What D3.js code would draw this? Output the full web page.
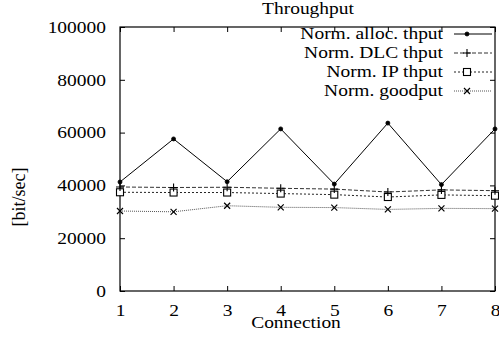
<!DOCTYPE html>
<html>
<head>
<meta charset="utf-8">
<script src="https://cdn.jsdelivr.net/npm/d3@7"></script>
<style>
  body { margin: 0; background: #fff; }
  svg text { font-family: "Liberation Serif", "DejaVu Serif", serif !important; }
</style>
</head>
<body>
<svg id="chart"></svg>
<script>
const connections = [1, 2, 3, 4, 5, 6, 7, 8];
const allocThput = [41300, 57600, 41400, 61400, 40500, 63600, 40300, 61400];
const dlcThput   = [39400, 39200, 39300, 38900, 38600, 37500, 38300, 38000];
const ipThput    = [37400, 37300, 37300, 36900, 36500, 35600, 36400, 36100];
const goodput    = [30300, 30000, 32300, 31700, 31600, 30900, 31300, 31200];
const yTicks = [0, 20000, 40000, 60000, 80000, 100000];

const series = [
  { name: "Norm. alloc. thput", values: allocThput, stroke: "#000", dash: null, mark: "dot" },
  { name: "Norm. DLC thput", values: dlcThput, stroke: "#333", dash: "4,2", mark: "plus" },
  { name: "Norm. IP thput", values: ipThput, stroke: "#222", dash: "2,2", mark: "square" },
  { name: "Norm. goodput", values: goodput, stroke: "#555", dash: "1,1", mark: "cross" }
];

const width = 499, height = 345;
const mLeft = 120, mRight = 495, mTop = 27, mBottom = 291;
const serif = "'Liberation Serif', 'DejaVu Serif', serif";
const fs = 16.5;   // font size
const sx = 1.18;   // the original picture is stretched sideways

const svg = d3.select("#chart").attr("width", width).attr("height", height)
  .attr("font-family", serif);

const x = d3.scaleLinear().domain([1, 8]).range([mLeft, mRight]);
const y = d3.scaleLinear().domain([0, 100000]).range([mBottom, mTop]);

// stretched text helper
function label(parent, tx, ty, str, anchor) {
  return parent.append("text")
    .attr("transform", `translate(${tx},${ty}) scale(${sx},1)`)
    .attr("text-anchor", anchor || "middle")
    .attr("font-size", fs)
    .text(str);
}

// ticks, mirrored on all four sides
const axisStyle = g => {
  g.attr("font-family", serif).attr("font-size", fs);
  g.select(".domain").remove();
  g.selectAll("line").attr("stroke", "#000");
  g.selectAll("text").attr("fill", "#000").each(function () {
    const t = d3.select(this);
    t.attr("x", (+t.attr("x") || 0) / sx).attr("transform", `scale(${sx},1)`);
  });
};

svg.append("g").attr("transform", `translate(0,${mBottom})`)
  .call(d3.axisBottom(x).tickValues(connections).tickFormat(d3.format("d")).tickSize(-5).tickPadding(13))
  .call(axisStyle);
svg.append("g").attr("transform", `translate(0,${mTop})`)
  .call(d3.axisTop(x).tickValues(connections).tickSize(-5).tickFormat(""))
  .call(axisStyle);
svg.append("g").attr("transform", `translate(${mLeft},0)`)
  .call(d3.axisLeft(y).tickValues(yTicks).tickFormat(d3.format("d")).tickSize(-5).tickPadding(14))
  .call(axisStyle);
svg.append("g").attr("transform", `translate(${mRight},0)`)
  .call(d3.axisRight(y).tickValues(yTicks).tickSize(-5).tickFormat(""))
  .call(axisStyle);

svg.append("rect")
  .attr("x", mLeft).attr("y", mTop)
  .attr("width", mRight - mLeft).attr("height", mBottom - mTop)
  .attr("fill", "none").attr("stroke", "#000").attr("stroke-width", 1.2);

function drawMark(g, kind, cx, cy) {
  if (kind === "dot") {
    g.append("circle").attr("cx", cx).attr("cy", cy).attr("r", 2)
      .attr("fill", "#000").attr("stroke", "#000").attr("stroke-width", 0.8);
  } else if (kind === "plus") {
    g.append("path").attr("d", `M${cx - 4},${cy}H${cx + 4}M${cx},${cy - 4}V${cy + 4}`)
      .attr("stroke", "#000").attr("stroke-width", 1.1);
  } else if (kind === "square") {
    g.append("rect").attr("x", cx - 3.5).attr("y", cy - 3.5).attr("width", 7).attr("height", 7)
      .attr("fill", "#fff").attr("stroke", "#000").attr("stroke-width", 1.1);
  } else {
    g.append("path").attr("d", `M${cx - 3},${cy - 3}L${cx + 3},${cy + 3}M${cx - 3},${cy + 3}L${cx + 3},${cy - 3}`)
      .attr("stroke", "#000").attr("stroke-width", 1.2);
  }
}

const line = d3.line().x((d, i) => x(connections[i])).y(d => y(d));

series.slice().reverse().forEach(s => {
  const g = svg.append("g");
  g.append("path")
    .attr("d", line(s.values))
    .attr("fill", "none")
    .attr("stroke", s.stroke)
    .attr("stroke-width", 1)
    .attr("stroke-dasharray", s.dash);
  s.values.forEach((v, i) => drawMark(g, s.mark, x(connections[i]), y(v)));
});

// legend
series.forEach((s, i) => {
  const ly = 34 + i * 19;
  const g = svg.append("g");
  label(g, 443, ly + 5, s.name, "end");
  g.append("line").attr("x1", 454).attr("x2", 492).attr("y1", ly).attr("y2", ly)
    .attr("stroke", s.stroke).attr("stroke-width", 1).attr("stroke-dasharray", s.dash);
  drawMark(g, s.mark, 467, ly);
});

label(svg, 308, 14, "Throughput");
label(svg, 296, 328, "Connection");
svg.append("text")
  .attr("transform", "translate(25,197) rotate(-90) scale(1,1.1)")
  .attr("text-anchor", "middle").attr("font-size", 18).text("[bit/sec]");
</script>
</body>
</html>
